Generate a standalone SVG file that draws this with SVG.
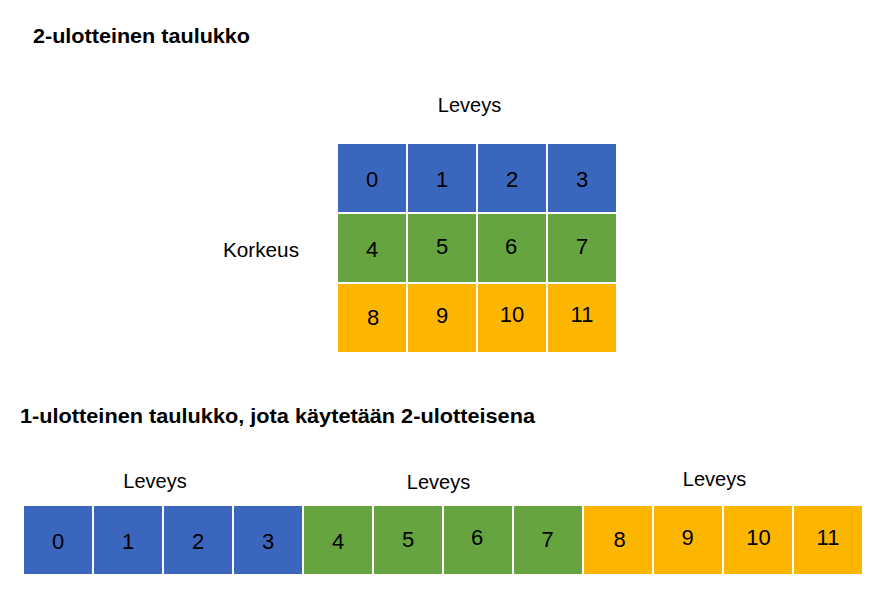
<svg xmlns="http://www.w3.org/2000/svg" width="888" height="609" viewBox="0 0 888 609">
<style>
text{font-family:"Liberation Sans",Arial,sans-serif;fill:#000}
.title{font-weight:bold;font-size:21px}
.lbl{font-size:20px;text-anchor:middle}
.num{font-size:22px;text-anchor:middle}
.b{fill:#3A67BD}
.g{fill:#65A43F}
.o{fill:#FDB600}
</style>
<rect width="888" height="609" fill="#fff"/>
<text class="title" x="33" y="43" textLength="217" lengthAdjust="spacingAndGlyphs">2-ulotteinen taulukko</text>
<text class="lbl" x="469.5" y="112">Leveys</text>
<text class="lbl" x="261" y="256.5" textLength="76" lengthAdjust="spacingAndGlyphs">Korkeus</text>
<g id="grid2d">
<g id="c2d-0"><rect class="b" x="338" y="144" width="68" height="68"/><text class="num" x="372" y="187">0</text></g>
<g id="c2d-1"><rect class="b" x="408" y="144" width="68" height="68"/><text class="num" x="442" y="187">1</text></g>
<g id="c2d-2"><rect class="b" x="478" y="144" width="68" height="68"/><text class="num" x="512" y="187">2</text></g>
<g id="c2d-3"><rect class="b" x="548" y="144" width="68" height="68"/><text class="num" x="582" y="187">3</text></g>
<g id="c2d-4"><rect class="g" x="338" y="214" width="68" height="68"/><text class="num" x="372" y="256.5">4</text></g>
<g id="c2d-5"><rect class="g" x="408" y="214" width="68" height="68"/><text class="num" x="442" y="254">5</text></g>
<g id="c2d-6"><rect class="g" x="478" y="214" width="68" height="68"/><text class="num" x="511" y="253.5">6</text></g>
<g id="c2d-7"><rect class="g" x="548" y="214" width="68" height="68"/><text class="num" x="582" y="254">7</text></g>
<g id="c2d-8"><rect class="o" x="338" y="284" width="68" height="68"/><text class="num" x="373" y="324.5">8</text></g>
<g id="c2d-9"><rect class="o" x="408" y="284" width="68" height="68"/><text class="num" x="442" y="322.5">9</text></g>
<g id="c2d-10"><rect class="o" x="478" y="284" width="68" height="68"/><text class="num" x="512" y="322">10</text></g>
<g id="c2d-11"><rect class="o" x="548" y="284" width="68" height="68"/><text class="num" x="582" y="322">11</text></g>
</g>
<text class="title" x="20" y="423" textLength="515" lengthAdjust="spacingAndGlyphs">1-ulotteinen taulukko, jota käytetään 2-ulotteisena</text>
<text class="lbl" x="155" y="487.5">Leveys</text>
<text class="lbl" x="438.5" y="488.5">Leveys</text>
<text class="lbl" x="714.5" y="486">Leveys</text>
<g id="grid1d">
<g id="c1d-0"><rect class="b" x="24" y="506" width="68" height="68"/><text class="num" x="58" y="548.5">0</text></g>
<g id="c1d-1"><rect class="b" x="94" y="506" width="68" height="68"/><text class="num" x="128" y="548.5">1</text></g>
<g id="c1d-2"><rect class="b" x="164" y="506" width="68" height="68"/><text class="num" x="198" y="548.5">2</text></g>
<g id="c1d-3"><rect class="b" x="234" y="506" width="68" height="68"/><text class="num" x="268" y="548.5">3</text></g>
<g id="c1d-4"><rect class="g" x="304" y="506" width="68" height="68"/><text class="num" x="338" y="548.5">4</text></g>
<g id="c1d-5"><rect class="g" x="374" y="506" width="68" height="68"/><text class="num" x="408" y="547">5</text></g>
<g id="c1d-6"><rect class="g" x="444" y="506" width="68" height="68"/><text class="num" x="477" y="545">6</text></g>
<g id="c1d-7"><rect class="g" x="514" y="506" width="68" height="68"/><text class="num" x="547.5" y="547">7</text></g>
<g id="c1d-8"><rect class="o" x="584" y="506" width="68" height="68"/><text class="num" x="619.5" y="547">8</text></g>
<g id="c1d-9"><rect class="o" x="654" y="506" width="68" height="68"/><text class="num" x="687.5" y="545">9</text></g>
<g id="c1d-10"><rect class="o" x="724" y="506" width="68" height="68"/><text class="num" x="758.5" y="545">10</text></g>
<g id="c1d-11"><rect class="o" x="794" y="506" width="68" height="68"/><text class="num" x="828" y="545">11</text></g>
</g>
<g id="connectors"/>
</svg>
